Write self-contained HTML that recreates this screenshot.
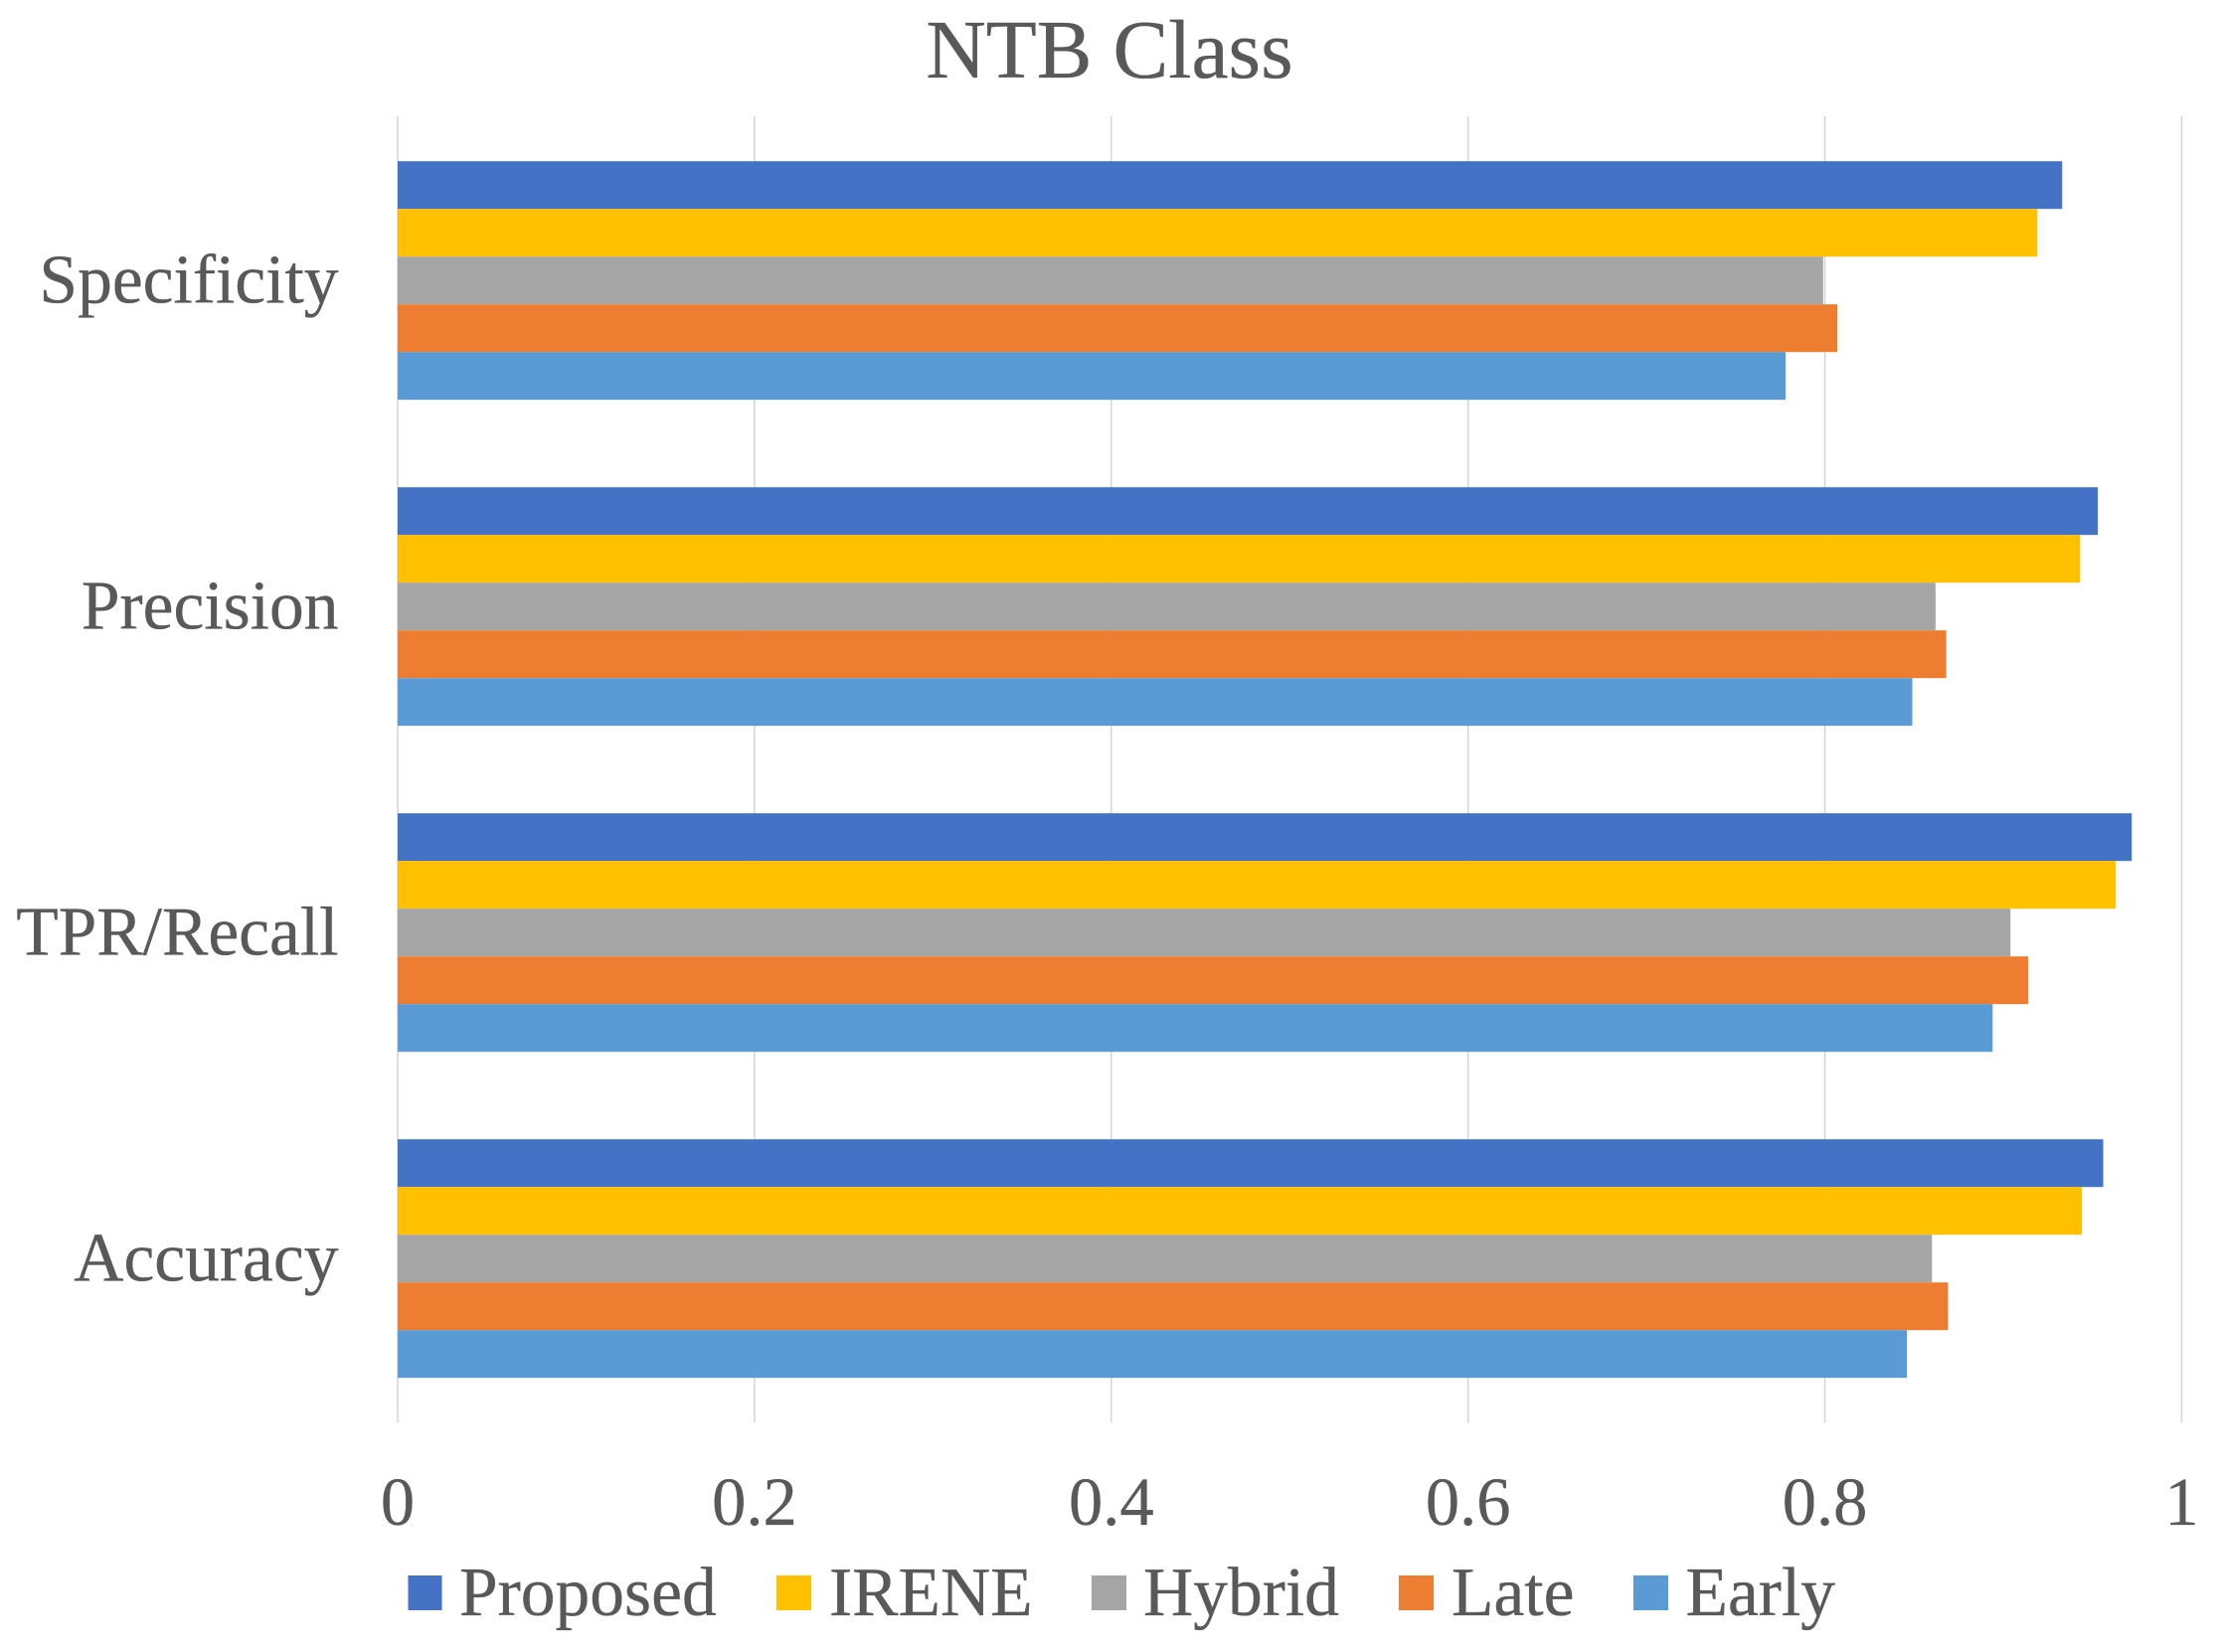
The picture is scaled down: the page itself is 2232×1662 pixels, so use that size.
<!DOCTYPE html>
<html lang="en">
<head>
<meta charset="utf-8">
<title>NTB Class</title>
<style>
html,body{margin:0;padding:0;background:#fff;}
body{width:2232px;height:1662px;overflow:hidden;}
svg{display:block;}
text{font-family:"Liberation Serif",serif;fill:#595959;stroke:#595959;stroke-width:0.35px;}
</style>
</head>
<body>
<svg id="chart" xmlns="http://www.w3.org/2000/svg" width="2232" height="1662" viewBox="0 0 2232 1662">
  <rect x="0" y="0" width="2232" height="1662" fill="#ffffff"/>
  <text x="1116" y="78" font-size="83.6" text-anchor="middle">NTB Class</text>
  <g id="grid"></g>
  <g id="bars"></g>
  <g id="cats"></g>
  <g id="ticks"></g>
  <g>
    <g>
      <rect x="410.5" y="1585" width="34" height="35" fill="#4472C4"/>
      <text x="462" y="1625" font-size="69.5">Proposed</text>
    </g>
    <g>
      <rect x="781" y="1585" width="35" height="35" fill="#FFC000"/>
      <text x="834" y="1625" font-size="69.5">IRENE</text>
    </g>
    <g>
      <rect x="1098" y="1585" width="35" height="35" fill="#A5A5A5"/>
      <text x="1150" y="1625" font-size="69.5">Hybrid</text>
    </g>
    <g>
      <rect x="1407" y="1585" width="35" height="35" fill="#ED7D31"/>
      <text x="1460" y="1625" font-size="69.5">Late</text>
    </g>
    <g>
      <rect x="1643" y="1585" width="35" height="35" fill="#5B9BD5"/>
      <text x="1695.5" y="1625" font-size="69.5">Early</text>
    </g>
  </g>
</svg>
<script>
// Chart data, with categories listed top to bottom
var categories = ["Specificity", "Precision", "TPR/Recall", "Accuracy"];
var proposed = [0.933, 0.953, 0.972, 0.956];
var irene = [0.919, 0.943, 0.963, 0.944];
var hybrid = [0.799, 0.862, 0.904, 0.860];
var late = [0.807, 0.868, 0.914, 0.869];
var early = [0.778, 0.849, 0.894, 0.846];
var tickValues = [0, 0.2, 0.4, 0.6, 0.8, 1];
var tickLabels = ["0", "0.2", "0.4", "0.6", "0.8", "1"];

var seriesNames = ["proposed", "irene", "hybrid", "late", "early"];
var seriesValues = [proposed, irene, hybrid, late, early];
var seriesColors = ["#4472C4", "#FFC000", "#A5A5A5", "#ED7D31", "#5B9BD5"];

var NS = "http://www.w3.org/2000/svg";
var plotLeft = 400, plotRight = 2194.5, plotTop = 118.2, plotBottom = 1430.2;
var gridTop = 117, gridBottom = 1431;
var gapRatio = 88 / 240;

function xScale(v) {
  return plotLeft + v * (plotRight - plotLeft);
}
function bandHeight() {
  return (plotBottom - plotTop) / categories.length;
}
function bandCenter(i) {
  return plotTop + bandHeight() * (i + 0.5);
}
function barHeight() {
  return bandHeight() / (1 + gapRatio) / seriesValues.length;
}
function barTop(i, s) {
  return bandCenter(i) - barHeight() * seriesValues.length / 2 + s * barHeight();
}

var gridGroup = document.getElementById("grid");
var barsGroup = document.getElementById("bars");
var catsGroup = document.getElementById("cats");
var ticksGroup = document.getElementById("ticks");

tickValues.forEach(function (v, i) {
  var line = document.createElementNS(NS, "line");
  
  
  line.setAttribute("x1", xScale(v));
  line.setAttribute("x2", xScale(v));
  line.setAttribute("y1", gridTop);
  line.setAttribute("y2", gridBottom);
  line.setAttribute("stroke", "#d4d4d4");
  line.setAttribute("stroke-width", "1.5");
  gridGroup.appendChild(line);

  var label = document.createElementNS(NS, "text");
  
  
  label.setAttribute("x", xScale(v));
  label.setAttribute("y", 1534);
  label.setAttribute("font-size", "68.5");
  label.setAttribute("text-anchor", "middle");
  label.textContent = tickLabels[i];
  ticksGroup.appendChild(label);
});

categories.forEach(function (cat, i) {
  var key = cat.toLowerCase().replace(/[^a-z]+/g, '-');
  var label = document.createElementNS(NS, "text");
  
  
  label.setAttribute("x", 340.5);
  label.setAttribute("y", bandCenter(i) + 22.2);
  label.setAttribute("font-size", "69.5");
  label.setAttribute("text-anchor", "end");
  label.textContent = cat;
  catsGroup.appendChild(label);

  seriesValues.forEach(function (vals, s) {
    var r = document.createElementNS(NS, "rect");
    
    
    r.setAttribute("x", xScale(0));
    r.setAttribute("y", barTop(i, s));
    r.setAttribute("width", xScale(vals[i]) - xScale(0));
    r.setAttribute("height", barHeight());
    r.setAttribute("fill", seriesColors[s]);
    barsGroup.appendChild(r);
  });
});
</script>
</body>
</html>
